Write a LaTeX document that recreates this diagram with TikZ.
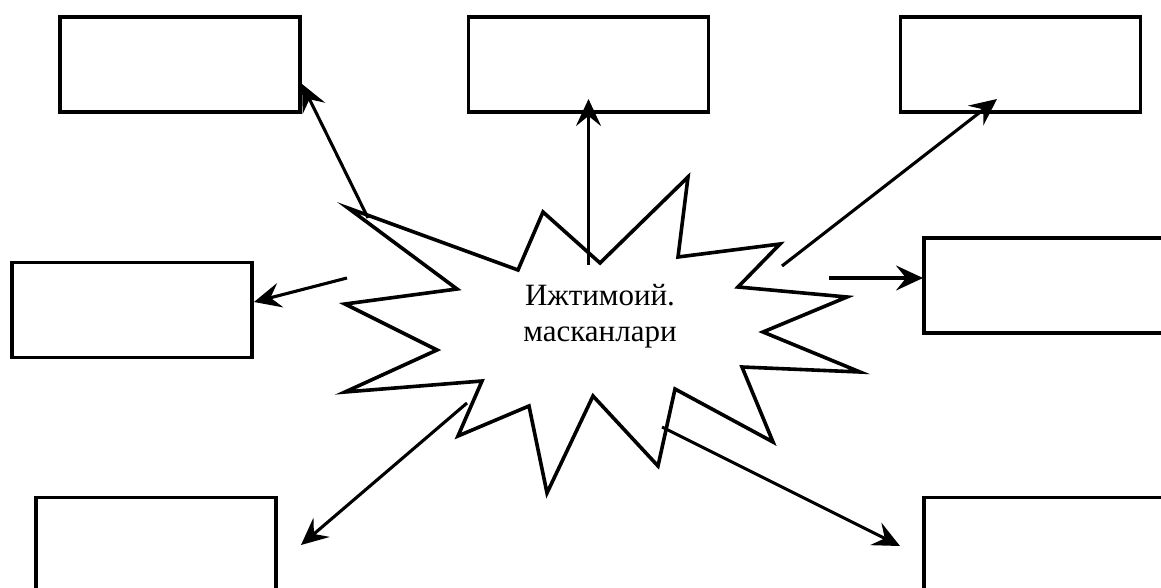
\documentclass[tikz,border=0pt]{standalone}
\usepackage{fontspec}
\setmainfont{Liberation Serif}
\usetikzlibrary{arrows.meta}
\begin{document}
\begin{tikzpicture}[x=1pt,y=-1pt,
  box/.style={draw,line width=3.6pt,minimum width=240pt,minimum height=95pt,inner sep=0pt,outer sep=0pt},
  burst/.style={draw,line width=3.6pt,line join=miter,miter limit=20},
  link/.style={line width=3.1pt,-{Stealth[length=27pt,width=25pt,inset=10pt]}},
  hubtext/.style={align=center,font=\fontsize{31}{36}\selectfont,inner sep=0pt}]
\useasboundingbox (0,0) rectangle (1161,588);
\clip (0,0) rectangle (1161,588);
% boxes
\node[box] (tl) at (180,64.5) {};
\node[box] (tm) at (588.5,64.5) {};
\node[box] (tr) at (1020.5,64.5) {};
\node[box] (ml) at (132,310) {};
\node[box] (mr) at (1044,285.5) {};
\node[box] (bl) at (156,545) {};
\node[box] (br) at (1044,545) {};
% burst
\path[burst] (348,208) -- (518,270) -- (543,212) -- (600,263) -- (688,177) -- (678,257)
  -- (780,244) -- (738,287) -- (847,297) -- (763,332) -- (860,372) -- (742,367)
  -- (773,442) -- (675,389) -- (658,466) -- (593,396) -- (547,493) -- (529,406)
  -- (458,436) -- (482,381) -- (345,392) -- (437,350) -- (345,304) -- (457,289) -- cycle;
\node[hubtext] (hub) at (600,316) {Ижтимоий.\\масканлари};
% arrow ends
\coordinate (s1) at (368,218); \coordinate (e1) at (302,84);
\coordinate (s2) at (588.5,265); \coordinate (e2) at (588.5,99);
\coordinate (s3) at (782,266); \coordinate (e3) at (997,99);
\coordinate (s4) at (347,278); \coordinate (e4) at (254,302);
\coordinate (s5) at (829,278); \coordinate (e5) at (923,278);
\coordinate (s6) at (467,403); \coordinate (e6) at (301,545);
\coordinate (s7) at (662,427); \coordinate (e7) at (900,546);
\draw[link] (s1) -- (e1);
\draw[link] (s2) -- (e2);
\draw[link] (s3) -- (e3);
\draw[link] (s4) -- (e4);
\draw[link] (s5) -- (e5);
\draw[link] (s6) -- (e6);
\draw[link] (s7) -- (e7);
\end{tikzpicture}
\end{document}
